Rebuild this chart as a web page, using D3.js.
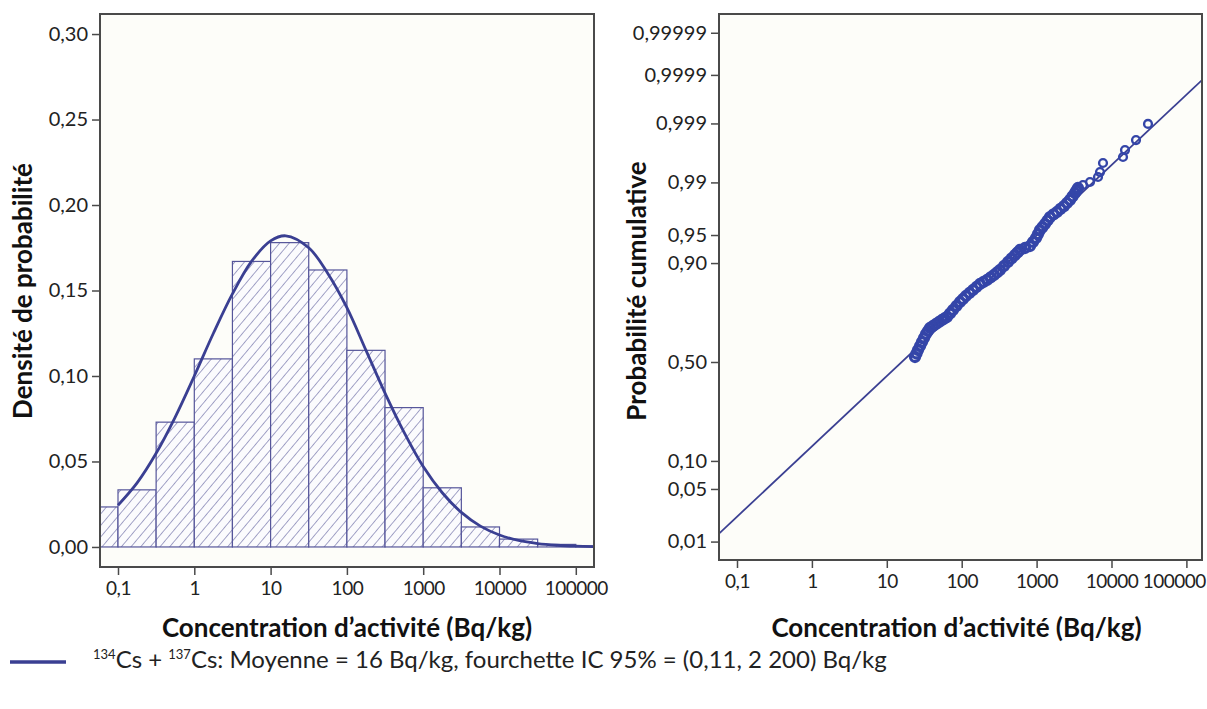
<!DOCTYPE html>
<html><head><meta charset="utf-8">
<script src="https://cdn.jsdelivr.net/npm/d3@7"></script>
<style>
html,body{margin:0;padding:0;background:#ffffff;}
svg{display:block;font-family:Lato,"Open Sans",sans-serif;}
</style></head>
<body>
<svg id="chart" width="1207" height="709"></svg>
<script>
// ---------- DATA ----------
// Histogram (half-decade bins): bin edges (Bq/kg) and probability density
const binLower = [0.0316, 0.1, 0.316, 1, 3.16, 10, 31.6, 100, 316, 1000, 3162, 10000, 31623, 100000];
const binUpper = [0.1, 0.316, 1, 3.16, 10, 31.6, 100, 316, 1000, 3162, 10000, 31623, 100000, 316228];
const binDensity = [0.0234, 0.0334, 0.073, 0.110, 0.167, 0.178, 0.162, 0.115, 0.0815, 0.0346, 0.0117, 0.0046, 0.0015, 0.0006];

// Fitted density curve
const curveX = [0.1, 0.178, 0.316, 0.562, 1, 1.78, 3.16, 5.62, 10, 15.8, 31.6, 56.2, 100, 178, 316, 562, 1000, 1778, 3162, 5623, 10000, 17783, 31623, 56234, 100000, 170000];
const curveY = [0.0244, 0.0375, 0.0548, 0.076, 0.100, 0.125, 0.148, 0.167, 0.179, 0.182, 0.175, 0.160, 0.140, 0.115, 0.090, 0.067, 0.047, 0.0317, 0.0202, 0.0122, 0.0070, 0.0038, 0.0020, 0.0010, 0.00045, 0.0002];

// Probability plot: observed points (Bq/kg, cumulative probability)
const obsX = [23.8, 24.9, 26.1, 27.8, 29.5, 31.4, 33.4, 35.5, 37.7, 41.4, 45.4, 49.8, 54.6, 58.9, 63.6, 69.8, 76.5, 85.2, 94.9, 104.1, 114, 127.1, 141.6, 157.6, 175.5, 195.4, 217.7, 242.4, 270, 296, 324.6, 367, 415, 462, 515, 556, 600, 700, 816, 895, 982, 1044, 1110, 1199, 1294, 1398, 1510, 1682, 1873, 2085, 2322, 2546, 2793, 3016, 3256, 3410, 3570, 4164, 5163, 6604, 7023, 7700, 14240, 15140, 21240, 30710];
const obsP = [0.5258, 0.5438, 0.5617, 0.5821, 0.6022, 0.6221, 0.6416, 0.6560, 0.6702, 0.6795, 0.6887, 0.6978, 0.7068, 0.7135, 0.7201, 0.7351, 0.7497, 0.7659, 0.7815, 0.7928, 0.8037, 0.8143, 0.8245, 0.8343, 0.8439, 0.8500, 0.8559, 0.8632, 0.8701, 0.8769, 0.8833, 0.8932, 0.9024, 0.9100, 0.9171, 0.9220, 0.9266, 0.9301, 0.9335, 0.9400, 0.9459, 0.9513, 0.9563, 0.9598, 0.9631, 0.9666, 0.9698, 0.9720, 0.9740, 0.9763, 0.9783, 0.9803, 0.9821, 0.9840, 0.9857, 0.9868, 0.9879, 0.98907, 0.99014, 0.99172, 0.99307, 0.99503, 0.99604, 0.99698, 0.99798, 0.99898];
// Fitted line end points (Bq/kg, cumulative probability)
const fitLineX = [0.0575, 161600];
const fitLineP = [0.0131, 0.99987];

// Tick values / labels
const densityTicks = [0, 0.05, 0.10, 0.15, 0.20, 0.25, 0.30];
const concTicks = [0.1, 1, 10, 100, 1000, 10000, 100000];
const concLabels = ["0,1", "1", "10", "100", "1000", "10000", "100000"];
const probTicks = [0.01, 0.05, 0.10, 0.50, 0.90, 0.95, 0.99, 0.999, 0.9999, 0.99999];
const probLabels = ["0,01", "0,05", "0,10", "0,50", "0,90", "0,95", "0,99", "0,999", "0,9999", "0,99999"];

const xTitle = "Concentration d\u2019activité (Bq/kg)";
const yTitleL = "Densité de probabilité";
const yTitleR = "Probabilité cumulative";

// ---------- HELPERS ----------
function probit(p) {
  // Acklam inverse normal CDF (probability-scale transform)
  const a = [-3.969683028665376e+01, 2.209460984245205e+02, -2.759285104469687e+02, 1.383577518672690e+02, -3.066479806614716e+01, 2.506628277459239e+00];
  const b = [-5.447609879822406e+01, 1.615858368580409e+02, -1.556989798598866e+02, 6.680131188771972e+01, -1.328068155288572e+01];
  const c = [-7.784894002430293e-03, -3.223964580411365e-01, -2.400758277161838e+00, -2.549732539343734e+00, 4.374664141464968e+00, 2.938163982698783e+00];
  const d = [7.784695709041462e-03, 3.224671290700398e-01, 2.445134137142996e+00, 3.754408661907416e+00];
  const pl = 0.02425, ph = 1 - pl;
  let q, r;
  if (p < pl) { q = Math.sqrt(-2 * Math.log(p));
    return (((((c[0]*q+c[1])*q+c[2])*q+c[3])*q+c[4])*q+c[5]) / ((((d[0]*q+d[1])*q+d[2])*q+d[3])*q+1); }
  if (p <= ph) { q = p - 0.5; r = q*q;
    return (((((a[0]*r+a[1])*r+a[2])*r+a[3])*r+a[4])*r+a[5])*q / (((((b[0]*r+b[1])*r+b[2])*r+b[3])*r+b[4])*r+1); }
  q = Math.sqrt(-2 * Math.log(1 - p));
  return -(((((c[0]*q+c[1])*q+c[2])*q+c[3])*q+c[4])*q+c[5]) / ((((d[0]*q+d[1])*q+d[2])*q+d[3])*q+1);
}

const svg = d3.select("#chart");
const BLUE = "#3a3f92";
const FRAME = "#4a4a4a";

const defs = svg.append("defs");
const pat = defs.append("pattern").attr("id", "hatch").attr("patternUnits", "userSpaceOnUse")
  .attr("width", 7.4).attr("height", 7.4).attr("patternTransform", "rotate(40)");
pat.append("rect").attr("width", 7.4).attr("height", 7.4).attr("fill", "#fbfbfd");
pat.append("line").attr("x1", 0).attr("y1", 0).attr("x2", 0).attr("y2", 7.4)
  .attr("stroke", "#5c5c9c").attr("stroke-width", 1.1);

// ---------- LEFT PANEL ----------
const L = {x0: 100, x1: 594, y0: 14, y1: 567};
const xL = d3.scaleLog().domain([Math.pow(10, -1.2359), Math.pow(10, 5.2385)]).range([L.x0, L.x1]);
const yL = d3.scaleLinear().domain([-0.01172, 0.31172]).range([L.y1, L.y0]);

defs.append("clipPath").attr("id", "clipL").append("rect")
  .attr("x", L.x0).attr("y", L.y0).attr("width", L.x1 - L.x0).attr("height", L.y1 - L.y0);

svg.append("rect").attr("x", L.x0).attr("y", L.y0).attr("width", L.x1 - L.x0).attr("height", L.y1 - L.y0)
  .attr("fill", "#fdfdf9");

const gL = svg.append("g").attr("clip-path", "url(#clipL)");
gL.selectAll("rect.bar").data(binDensity).join("rect").attr("class", "bar")
  .attr("x", (d, i) => xL(binLower[i]))
  .attr("width", (d, i) => xL(binUpper[i]) - xL(binLower[i]))
  .attr("y", d => yL(d))
  .attr("height", d => yL(0) - yL(d))
  .attr("fill", "url(#hatch)")
  .attr("stroke", "#55559a").attr("stroke-width", 1.2);

gL.append("path")
  .datum(curveX.map((x, i) => [x, curveY[i]]))
  .attr("d", d3.line().x(d => xL(d[0])).y(d => yL(d[1])).curve(d3.curveCatmullRom))
  .attr("fill", "none").attr("stroke", BLUE).attr("stroke-width", 2.8);

svg.append("rect").attr("x", L.x0).attr("y", L.y0).attr("width", L.x1 - L.x0).attr("height", L.y1 - L.y0)
  .attr("fill", "none").attr("stroke", FRAME).attr("stroke-width", 2);

svg.append("g").attr("class", "yax").attr("transform", `translate(${L.x0},0)`)
  .call(d3.axisLeft(yL).tickValues(densityTicks).tickSize(8).tickPadding(4)
    .tickFormat(d => d3.format(".2f")(d).replace(".", ",")));
svg.append("g").attr("class", "xax").attr("transform", `translate(0,${L.y1})`)
  .call(d3.axisBottom(xL).tickValues(concTicks).tickSize(8).tickPadding(7)
    .tickFormat((d, i) => concLabels[i]));

// ---------- RIGHT PANEL ----------
const R = {x0: 719, x1: 1202, y0: 14, y1: 560};
const xR = d3.scaleLog().domain([Math.pow(10, -1.2403), Math.pow(10, 5.2083)]).range([R.x0, R.x1]);
const zR = d3.scaleLinear().domain([-2.565, 4.508]).range([R.y1, R.y0]);
const yR = p => zR(probit(p));

defs.append("clipPath").attr("id", "clipR").append("rect")
  .attr("x", R.x0).attr("y", R.y0).attr("width", R.x1 - R.x0).attr("height", R.y1 - R.y0);

svg.append("rect").attr("x", R.x0).attr("y", R.y0).attr("width", R.x1 - R.x0).attr("height", R.y1 - R.y0)
  .attr("fill", "#fdfdf9");

const gR = svg.append("g").attr("clip-path", "url(#clipR)");
gR.append("path")
  .datum(fitLineX.map((x, i) => [x, fitLineP[i]]))
  .attr("d", d3.line().x(d => xR(d[0])).y(d => yR(d[1])))
  .attr("fill", "none").attr("stroke", BLUE).attr("stroke-width", 1.8);

gR.selectAll("circle.obs").data(obsX).join("circle").attr("class", "obs")
  .attr("cx", d => xR(d))
  .attr("cy", (d, i) => yR(obsP[i]))
  .attr("r", (d, i) => i < 57 ? 4.5 : 3.9)
  .attr("fill", "none").attr("stroke", "#3445a8").attr("stroke-width", (d, i) => i < 57 ? 3.3 : 2.4);

svg.append("rect").attr("x", R.x0).attr("y", R.y0).attr("width", R.x1 - R.x0).attr("height", R.y1 - R.y0)
  .attr("fill", "none").attr("stroke", FRAME).attr("stroke-width", 2);

svg.append("g").attr("class", "yax").attr("transform", `translate(${R.x0},0)`)
  .call(d3.axisLeft(zR).tickValues(probTicks.map(probit)).tickSize(8).tickPadding(4)
    .tickFormat((d, i) => probLabels[i]));
const axRB = svg.append("g").attr("class", "xax").attr("transform", `translate(0,${R.y1})`)
  .call(d3.axisBottom(xR).tickValues(concTicks).tickSize(8).tickPadding(7)
    .tickFormat((d, i) => concLabels[i]));

// axis styling
svg.selectAll(".domain").remove();
svg.selectAll(".tick line").attr("stroke", FRAME).attr("stroke-width", 1.5);
svg.selectAll(".tick text").attr("font-family", "Lato, sans-serif").attr("fill", "#222");
svg.selectAll(".yax .tick text").attr("font-size", 20);
svg.selectAll(".xax .tick text").attr("font-size", 19).attr("letter-spacing", "-0.5px");
// keep the last right-panel label inside the picture
axRB.selectAll(".tick:last-of-type text").attr("text-anchor", "end").attr("dx", 19);

// ---------- TITLES ----------
const titleSize = 26;
svg.append("text").attr("x", (L.x0 + L.x1) / 2).attr("y", 637).attr("text-anchor", "middle")
  .attr("font-size", titleSize).attr("font-weight", "bold").attr("fill", "#111").text(xTitle);
svg.append("text").attr("x", (R.x0 + R.x1) / 2 - 4).attr("y", 637).attr("text-anchor", "middle")
  .attr("font-size", titleSize).attr("font-weight", "bold").attr("fill", "#111").text(xTitle);
svg.append("text").attr("transform", "translate(32,291) rotate(-90)").attr("text-anchor", "middle")
  .attr("font-size", titleSize).attr("font-weight", "bold").attr("fill", "#111").text(yTitleL);
svg.append("text").attr("transform", "translate(646,291) rotate(-90)").attr("text-anchor", "middle")
  .attr("font-size", titleSize).attr("font-weight", "bold").attr("fill", "#111").text(yTitleR);

// ---------- LEGEND ----------
svg.append("line").attr("x1", 10).attr("x2", 66).attr("y1", 662).attr("y2", 662)
  .attr("stroke", BLUE).attr("stroke-width", 3.4);
const lt = svg.append("text").attr("x", 93).attr("y", 668).attr("font-size", 24).attr("fill", "#222");
lt.append("tspan").attr("font-size", 13).attr("dy", -9).text("134");
lt.append("tspan").attr("dy", 9).text("Cs + ");
lt.append("tspan").attr("font-size", 13).attr("dy", -9).text("137");
lt.append("tspan").attr("dy", 9).text("Cs: Moyenne = 16 Bq/kg, fourchette IC 95% = (0,11, 2 200) Bq/kg");
</script>
</body></html>
